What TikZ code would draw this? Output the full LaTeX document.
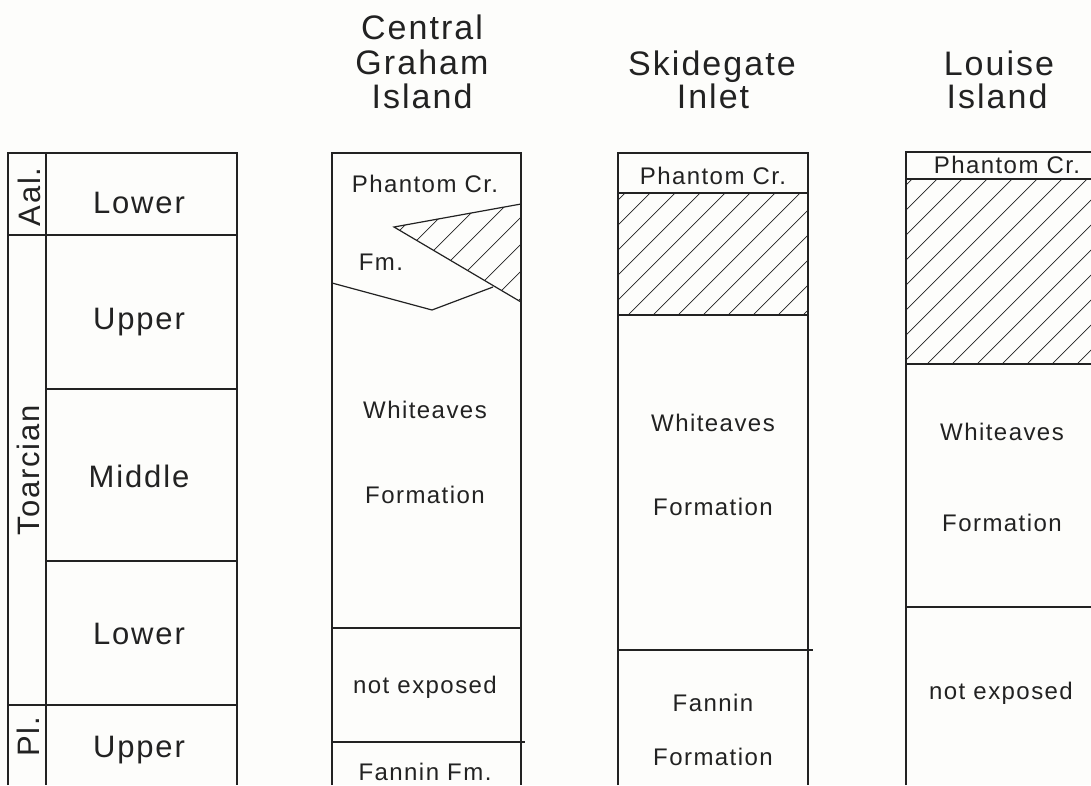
\documentclass[tikz,border=0pt]{standalone}
\usepackage{fontspec}
\setmainfont{Liberation Sans}[LetterSpace=6]
\definecolor{ink}{RGB}{34,34,34}
\definecolor{paper}{RGB}{253,253,251}
\tikzset{
  ln/.style={line width=1.2pt, draw=ink},
  hatchln/.style={line width=0.7pt, draw=ink},
  big/.style={font=\fontsize{31}{34}\selectfont, text=ink, inner sep=0pt, anchor=base},
  rot/.style={font=\fontsize{31}{34}\selectfont, text=ink, inner sep=0pt, rotate=90},
  ttl/.style={font=\fontsize{34}{36}\selectfont, text=ink, inner sep=0pt, anchor=base},
  sm/.style={font=\fontsize{24}{26}\selectfont, text=ink, inner sep=0pt, anchor=base},
}
\begin{document}
\begin{tikzpicture}[x=1pt,y=-1pt]
\fill[paper] (0,0) rectangle (1091,785);
\useasboundingbox (0,0) rectangle (1091,785);

% ---------- left (stage) column ----------
\draw[ln] (8,785) -- (8,153) -- (237,153) -- (237,785);
\draw[ln] (46,153) -- (46,785);
\draw[ln] (8,235) -- (237,235);
\draw[ln] (46,389) -- (237,389);
\draw[ln] (46,561) -- (237,561);
\draw[ln] (8,705) -- (237,705);
\node[rot] (aal) at (29,197) {Aal.};
\node[rot] (toar) at (28,470) {Toarcian};
\node[rot] (pl) at (28,737) {Pl.};
\node[big] (l1) at (139,213) {Lower};
\node[big] (u1) at (139,329) {Upper};
\node[big] (m1) at (139,487) {Middle};
\node[big] (l2) at (139,644) {Lower};
\node[big] (u2) at (139,757) {Upper};

% ---------- Central Graham Island ----------
\node[ttl] (cg1) at (422,39) {Central};
\node[ttl] (cg2) at (422,74) {Graham};
\node[ttl] (cg3) at (422,108) {Island};
\begin{scope}
  \clip (394,227) -- (521,204) -- (521,302) -- cycle;
  \foreach \k in {-3,...,8} \draw[hatchln] ({355+27*\k},302) -- ++(160,-160);
\end{scope}
\draw[ln] (332,785) -- (332,153) -- (521,153) -- (521,785);
\draw[ln] (521,204) -- (394,227) -- (521,302);
\draw[ln] (332,283) -- (432,310) -- (493,287);
\draw[ln] (332,628) -- (521,628);
\draw[ln] (332,742) -- (525,742);
\node[sm] (cpc) at (425,192) {Phantom Cr.};
\node[sm] (cfm) at (381,270) {Fm.};
\node[sm] (cwh) at (425,418) {Whiteaves};
\node[sm] (cfo) at (425,503) {Formation};
\node[sm] (cne) at (425,693) {not exposed};
\node[sm] (cfa) at (425,780) {Fannin Fm.};

% ---------- Skidegate Inlet ----------
\node[ttl] (sk1) at (712,75) {Skidegate};
\node[ttl] (sk2) at (713,108) {Inlet};
\begin{scope}
  \clip (618,193) rectangle (808,315);
  \foreach \c in {-190,-165,...,190} \draw[hatchln] ({618+\c},315) -- ++(200,-200);
\end{scope}
\draw[ln] (618,785) -- (618,153) -- (808,153) -- (808,785);
\draw[ln] (618,193) -- (808,193);
\draw[ln] (618,315) -- (808,315);
\draw[ln] (618,650) -- (813,650);
\node[sm] (spc) at (713,184) {Phantom Cr.};
\node[sm] (swh) at (713,431) {Whiteaves};
\node[sm] (sfo) at (713,515) {Formation};
\node[sm] (sfa) at (713,711) {Fannin};
\node[sm] (sfo2) at (713,765) {Formation};

% ---------- Louise Island ----------
\node[ttl] (lo1) at (999,75) {Louise};
\node[ttl] (lo2) at (997,108) {Island};
\begin{scope}
  \clip (906,179) rectangle (1091,364);
  \foreach \c in {-204,-179,...,200} \draw[hatchln] ({906+\c},364) -- ++(260,-260);
\end{scope}
\draw[ln] (906,785) -- (906,152) -- (1091,152);
\draw[ln] (906,179) -- (1091,179);
\draw[ln] (906,364) -- (1091,364);
\draw[ln] (906,607) -- (1091,607);
\node[sm] (lpc) at (1007,173) {Phantom Cr.};
\node[sm] (lwh) at (1002,440) {Whiteaves};
\node[sm] (lfo) at (1002,531) {Formation};
\node[sm] (lne) at (1001,699) {not exposed};
\end{tikzpicture}
\end{document}
